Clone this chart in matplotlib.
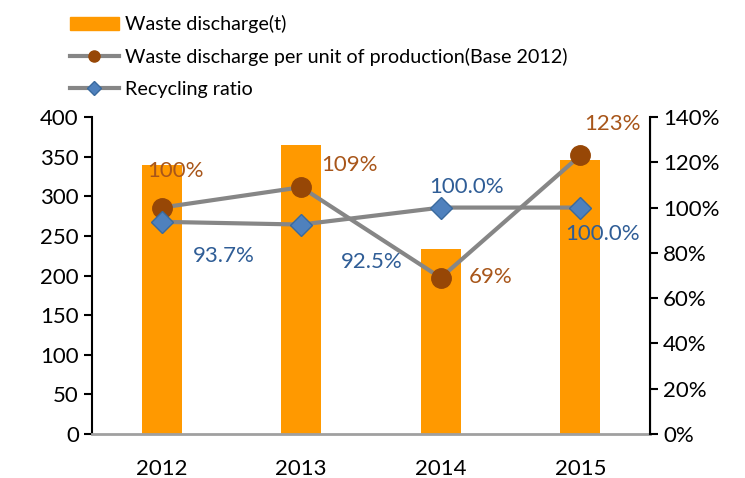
import numpy as np
import matplotlib.pyplot as plt
from matplotlib.lines import Line2D
from matplotlib.patches import Patch

plt.rcParams['font.family'] = ['Lato', 'DejaVu Sans']

years = ["2012", "2013", "2014", "2015"]
discharge = [339, 365, 234, 346]
per_unit = [100, 109, 69, 123]
per_unit_labels = ["100%", "109%", "69%", "123%"]
recycling = [93.7, 92.5, 100.0, 100.0]
recycling_labels = ["93.7%", "92.5%", "100.0%", "100.0%"]

orange = "#FF9900"
gray = "#868686"
brown = "#974706"
brown_txt = "#A8561A"
blue = "#4F81BD"
blue_txt = "#2F5D96"

fig = plt.figure(figsize=(7.45, 4.78), dpi=100)
ax = fig.add_axes([92 / 745, 1 - 434 / 478, 558 / 745, 317 / 478])
ax2 = ax.twinx()

x = np.arange(len(years))
ax.bar(x, discharge, width=0.29, color=orange, zorder=1)
ax.set_ylim(0, 400)
ax.set_yticks(range(0, 401, 50))
ax.set_xlim(-0.5, 3.5)
ax.set_xticks(x)
ax.set_xticklabels(years)

ax2.plot(x, per_unit, color=gray, lw=3, marker="o", ms=14,
         mfc=brown, mec=brown, zorder=3)
ax2.plot(x, recycling, color=gray, lw=3, marker="D", ms=11,
         mfc=blue, mec="#3A6A9E", zorder=4)
ax2.set_ylim(0, 140)
ax2.set_yticks(range(0, 141, 20))
ax2.set_yticklabels([f"{v}%" for v in range(0, 141, 20)])

pu_off = [(14, 37), (48, 22), (50, 1), (32, 31)]
for xi, v, lab, off in zip(x, per_unit, per_unit_labels, pu_off):
    ax2.annotate(lab, (xi, v), xytext=off, textcoords="offset pixels",
                 ha="center", va="center", color=brown_txt, fontsize=16)
rc_off = [(62, -34), (71, -37), (26, 21), (22, -26)]
for xi, v, lab, off in zip(x, recycling, recycling_labels, rc_off):
    ax2.annotate(lab, (xi, v), xytext=off, textcoords="offset pixels",
                 ha="center", va="center", color=blue_txt, fontsize=16)

for a in (ax, ax2):
    a.spines["top"].set_visible(False)
    a.tick_params(labelsize=16, length=6, width=1.5, colors="black")
ax.spines["bottom"].set_color("#A0A0A0")
ax.spines["bottom"].set_linewidth(2)
ax.spines["left"].set_linewidth(1.5)
ax2.spines["right"].set_linewidth(1.5)
ax2.spines["left"].set_visible(False)
ax2.spines["bottom"].set_visible(False)
ax.tick_params(axis="x", length=0, pad=18)

handles = [
    Patch(color=orange),
    Line2D([], [], color=gray, lw=3, marker="o", ms=8, mfc=brown, mec=brown),
    Line2D([], [], color=gray, lw=3, marker="D", ms=7, mfc=blue, mec="#3A6A9E"),
]
labels = ["Waste discharge(t)",
          "Waste discharge per unit of production(Base 2012)",
          "Recycling ratio"]
fig.legend(handles, labels, loc="upper left", bbox_to_anchor=(52 / 745, 1.005),
           frameon=False, fontsize=14.2, handlelength=2.5, labelspacing=0.75,
           handletextpad=0.3)

fig.savefig("out.png", dpi=100)
